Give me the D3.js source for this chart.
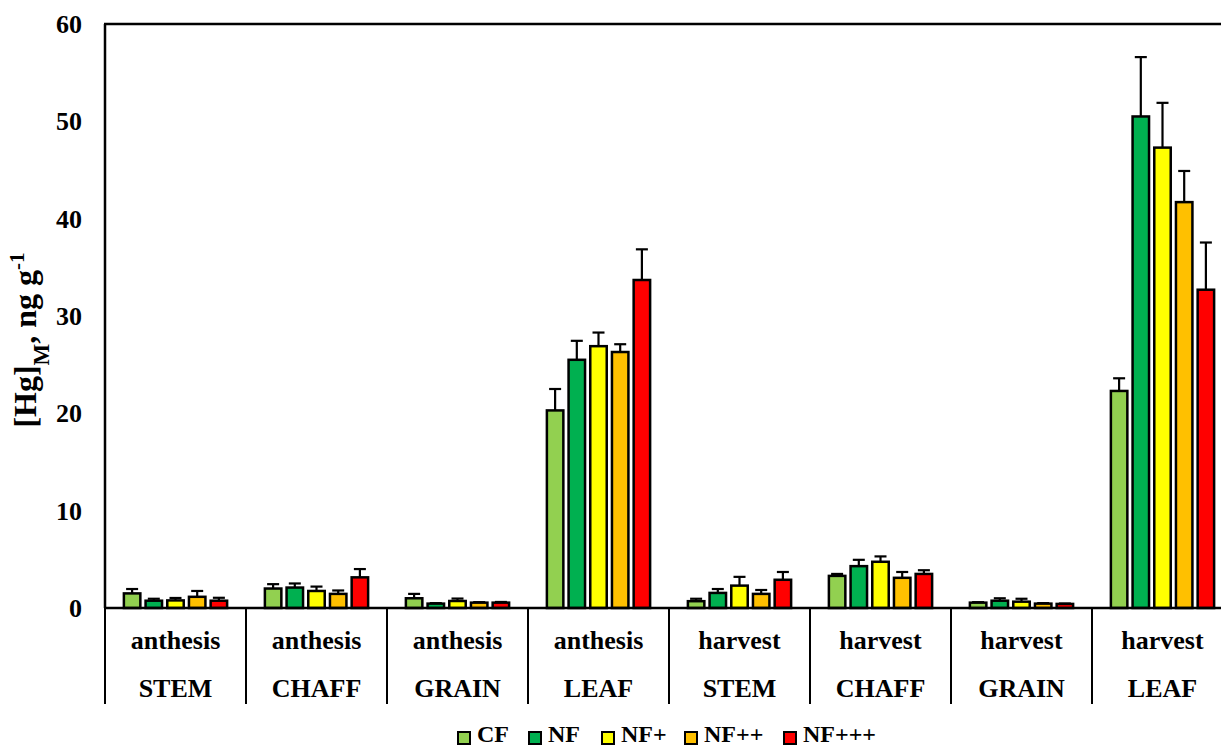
<!DOCTYPE html>
<html lang="en">
  <head>
    <meta charset="utf-8">
    <title>Hg concentration by organ and stage</title>
    <style>
      body { margin: 0; background: #fff; }
      text { font-family: "Liberation Serif", "Times New Roman", serif; font-weight: bold; fill: #000; }
      .bar { stroke: #000; stroke-width: 2.5; }
      .err { stroke: #000; stroke-width: 2.2; }
    </style>
    <script type="text/javascript" src="https://cdn.jsdelivr.net/npm/d3@7/dist/d3.min.js"></script>
  </head>
  <body>
  <svg width="1221" height="748"></svg>
    <script>
// data
var stages = ["anthesis","anthesis","anthesis","anthesis","harvest","harvest","harvest","harvest"];
var organs = ["STEM","CHAFF","GRAIN","LEAF","STEM","CHAFF","GRAIN","LEAF"];
var series = ["CF","NF","NF+","NF++","NF+++"];
var colors = ["#92d050","#00b050","#ffff00","#ffc000","#ff0000"];
var yTicks = [0,10,20,30,40,50,60];

// mean values per series (one value per group)
var CF    = [1.5, 2.0, 1.0, 20.3, 0.7, 3.3, 0.55, 22.3];
var NF    = [0.75, 2.1, 0.45, 25.5, 1.55, 4.3, 0.75, 50.5];
var NFp   = [0.78, 1.75, 0.72, 26.9, 2.3, 4.75, 0.65, 47.3];
var NFpp  = [1.15, 1.45, 0.55, 26.3, 1.45, 3.1, 0.45, 41.7];
var NFppp = [0.75, 3.15, 0.55, 33.7, 2.9, 3.5, 0.42, 32.7];
// upper error (sd)
var CFe    = [0.45, 0.45, 0.45, 2.2, 0.25, 0.2, 0.05, 1.3];
var NFe    = [0.2, 0.42, 0.05, 1.95, 0.4, 0.65, 0.25, 6.1];
var NFpe   = [0.25, 0.45, 0.25, 1.4, 0.9, 0.55, 0.3, 4.6];
var NFppe  = [0.6, 0.35, 0.05, 0.8, 0.4, 0.6, 0.05, 3.2];
var NFpppe = [0.3, 0.85, 0.07, 3.15, 0.8, 0.38, 0.04, 4.85];

var values = [CF, NF, NFp, NFpp, NFppp];
var errors = [CFe, NFe, NFpe, NFppe, NFpppe];

var svg = d3.select("svg"),
    margin = {top: 24, left: 105},
    plotRight = 1233,
    plotBottom = 608;

var x0 = d3.scaleBand().domain(d3.range(8)).range([margin.left, plotRight]).padding(0);
var x1 = d3.scaleBand().domain(series).range([0, x0.bandwidth()]).paddingInner(0.13).paddingOuter(0.815);
var y = d3.scaleLinear().domain([0, 60]).range([plotBottom, margin.top]);

// y axis labels
svg.append("g").selectAll("text")
    .data(yTicks).enter().append("text")
    .attr("x", 82)
    .attr("y", function(d) { return y(d); })
    .attr("dy", "0.35em")
    .attr("text-anchor", "end")
    .style("font-size", "26px")
    .text(function(d) { return d; });

// y axis title
var yt = svg.append("text")
    .attr("transform", "translate(36,340) rotate(-90)")
    .attr("text-anchor", "middle")
    .style("font-size", "32px");
yt.append("tspan").text("[Hg]");
yt.append("tspan").attr("baseline-shift", "sub").style("font-size", "23px").text("M");
yt.append("tspan").text(", ng g");
yt.append("tspan").attr("baseline-shift", "super").style("font-size", "21px").text("-1");

// bars
series.forEach(function(s, si) {
  var g = svg.append("g");
  var rows = d3.range(8).map(function(i) { return {i: i, v: values[si][i], e: errors[si][i]}; });

  g.selectAll("line.err").data(rows).enter().append("line")
      .attr("class", "err")
      .attr("x1", function(d) { return x0(d.i) + x1(s) + x1.bandwidth() / 2; })
      .attr("x2", function(d) { return x0(d.i) + x1(s) + x1.bandwidth() / 2; })
      .attr("y1", function(d) { return y(d.v); })
      .attr("y2", function(d) { return y(d.v + d.e); });
  g.selectAll("line.cap").data(rows).enter().append("line")
      .attr("class", "err")
      .attr("x1", function(d) { return x0(d.i) + x1(s) + x1.bandwidth() / 2 - 6; })
      .attr("x2", function(d) { return x0(d.i) + x1(s) + x1.bandwidth() / 2 + 6; })
      .attr("y1", function(d) { return y(d.v + d.e); })
      .attr("y2", function(d) { return y(d.v + d.e); });

  g.selectAll("rect").data(rows).enter().append("rect")
      .attr("class", "bar")
      .attr("fill", colors[si])
      .attr("x", function(d) { return x0(d.i) + x1(s) + 1.2; })
      .attr("width", x1.bandwidth() - 2.4)
      .attr("y", function(d) { return y(d.v); })
      .attr("height", function(d) { return plotBottom - y(d.v); });
});

// frame: left axis, top line, x axis
svg.append("line").attr("x1", margin.left).attr("x2", margin.left)
    .attr("y1", margin.top).attr("y2", plotBottom)
    .attr("stroke", "#000").attr("stroke-width", 2.5);
svg.append("line").attr("x1", margin.left - 1).attr("x2", plotRight)
    .attr("y1", margin.top).attr("y2", margin.top)
    .attr("stroke", "#000").attr("stroke-width", 2.5);
svg.append("line").attr("x1", margin.left - 1).attr("x2", plotRight)
    .attr("y1", plotBottom).attr("y2", plotBottom)
    .attr("stroke", "#000").attr("stroke-width", 2.5);

// category dividers
svg.append("g").selectAll("line")
    .data(d3.range(9)).enter().append("line")
    .attr("x1", function(d) { return margin.left + d * x0.step(); })
    .attr("x2", function(d) { return margin.left + d * x0.step(); })
    .attr("y1", plotBottom)
    .attr("y2", 704)
    .attr("stroke", "#000").attr("stroke-width", 2);

// category labels
svg.append("g").selectAll("text")
    .data(d3.range(8)).enter().append("text")
    .attr("x", function(d) { return x0(d) + x0.bandwidth() / 2; })
    .attr("y", 649)
    .attr("text-anchor", "middle")
    .style("font-size", "26px")
    .text(function(d) { return stages[d]; });
svg.append("g").selectAll("text")
    .data(d3.range(8)).enter().append("text")
    .attr("x", function(d) { return x0(d) + x0.bandwidth() / 2; })
    .attr("y", 697)
    .attr("text-anchor", "middle")
    .style("font-size", "26px")
    .text(function(d) { return organs[d]; });

// legend
var legX = [458, 529, 602, 685, 784];
var leg = svg.append("g").selectAll("g")
    .data(series).enter().append("g")
    .attr("transform", function(d, i) { return "translate(" + legX[i] + ",732)"; });
leg.append("rect")
    .attr("width", 12).attr("height", 12)
    .attr("fill", function(d, i) { return colors[i]; })
    .attr("stroke", "#000").attr("stroke-width", 2);
leg.append("text")
    .attr("x", 19).attr("y", 10)
    .style("font-size", "24px")
    .text(function(d) { return d; });
    </script>
  </body>
</html>
